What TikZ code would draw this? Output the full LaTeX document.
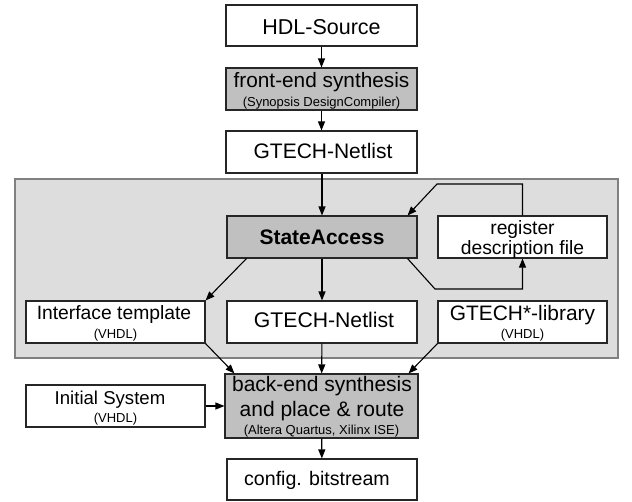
\documentclass[tikz,border=0pt]{standalone}
\usepackage{fontspec}
\setmainfont{Liberation Sans}
\usetikzlibrary{arrows.meta,calc}
\definecolor{panelfill}{HTML}{DDDDDD}
\definecolor{panelline}{HTML}{808080}
\definecolor{darkfill}{HTML}{C0C0C0}
\newcommand\fsz[1]{\fontsize{#1}{#1}\selectfont}
\tikzset{
  box/.style={draw=black!85, line width=1.1pt, fill=white, inner sep=0pt},
  dbox/.style={box, fill=darkfill},
  txt/.style={anchor=base, inner sep=0pt, font=\fsz{#1}},
  sml/.style={anchor=base, inner sep=0pt, font=\fsz{13}},
  arr/.style={line width=1.1pt, -{Triangle[length=9pt,width=7pt]}},
}
\begin{document}
\begin{tikzpicture}[x=1pt,y=-1pt]
\useasboundingbox (0,0) rectangle (632,501);
% panel
\node[draw=panelline, fill=panelfill, line width=1.5pt, minimum width=603pt, minimum height=179pt, inner sep=0pt] (panel) at (316.5,268.5) {};
% boxes
\node[box, minimum width=191pt, minimum height=41pt] (hdl) at (321.5,25.5) {};
\node[dbox, minimum width=191pt, minimum height=42pt] (fe) at (321.5,89) {};
\node[box, minimum width=191pt, minimum height=42pt] (gt1) at (321.5,152) {};
\node[dbox, minimum width=190pt, minimum height=42pt] (sa) at (322,237) {};
\node[box, minimum width=169pt, minimum height=42pt] (reg) at (522.5,237) {};
\node[box, minimum width=179pt, minimum height=42pt] (itf) at (115.5,322) {};
\node[box, minimum width=190pt, minimum height=42pt] (gt2) at (322,322) {};
\node[box, minimum width=169pt, minimum height=42pt] (lib) at (522.5,322) {};
\node[dbox, minimum width=193pt, minimum height=64pt] (be) at (321.5,406) {};
\node[box, minimum width=179pt, minimum height=42pt] (init) at (115.5,406) {};
\node[box, minimum width=190pt, minimum height=41pt] (cfg) at (322,479.5) {};
% texts
\node[txt=21.5] (hdlT) at (321.5,34) {HDL-Source};
\node[txt=20.8] (feT) at (321.5,87.3) {front-end synthesis};
\node[sml] (feS) at (321.5,106) {(Synopsis DesignCompiler)};
\node[txt=21] (gt1T) at (323,158.3) {GTECH-Netlist};
\node[txt=21, font=\fsz{21}\bfseries] (saT) at (322,244) {StateAccess};
\node[txt=19.3] (regT) at (522.5,234) {register};
\node[txt=19.3] (regT2) at (522.5,254) {description file};
\node[txt=19.3] (itfT) at (114,319) {Interface template};
\node[sml] (itfS) at (115.5,338.5) {(VHDL)};
\node[txt=21.2] (gt2T) at (324,327.3) {GTECH-Netlist};
\node[txt=20.9] (libT) at (522.5,320) {GTECH*-library};
\node[sml] (libS) at (522.5,338.5) {(VHDL)};
\node[txt=21] (beT) at (322,391.7) {back-end synthesis};
\node[txt=21] (beT2) at (322,416.7) {and place \& route};
\node[sml] (beS) at (321.5,434.3) {(Altera Quartus, Xilinx ISE)};
\node[txt=18.6] (initT) at (110,404) {Initial System};
\node[sml] (initS) at (115.5,422.7) {(VHDL)};
\node[txt=19.6] (cfgT) at (317,485.7) {config. bitstream};
% connectors
\draw[arr] (hdl) -- (fe);
\draw[arr] (fe) -- (gt1);
\draw[arr] (gt1.south -| sa.north) -- (sa.north);
\coordinate (loopT) at (437,184);
\coordinate (loopB) at (435,289);
\draw[arr] (reg.north) -- (reg.north |- loopT) -- (loopT) -- ($(sa.north east)+(-10pt,0)$);
\draw[arr] ($(sa.south east)+(-10pt,0)$) -- (loopB) -- (loopB -| reg.south) -- (reg.south);
\draw[arr] ($(sa.south west)+(20pt,0)$) -- (itf.north east);
\draw[arr] (sa) -- (gt2);
\draw[arr] (itf.south east) -- ($(be.north west)+(10pt,0)$);
\draw[arr] (gt2) -- (be);
\draw[arr] (lib.south west) -- ($(be.north east)+(-10pt,0)$);
\draw[arr] (init) -- (be);
\draw[arr] (be) -- (cfg);
\end{tikzpicture}
\end{document}
